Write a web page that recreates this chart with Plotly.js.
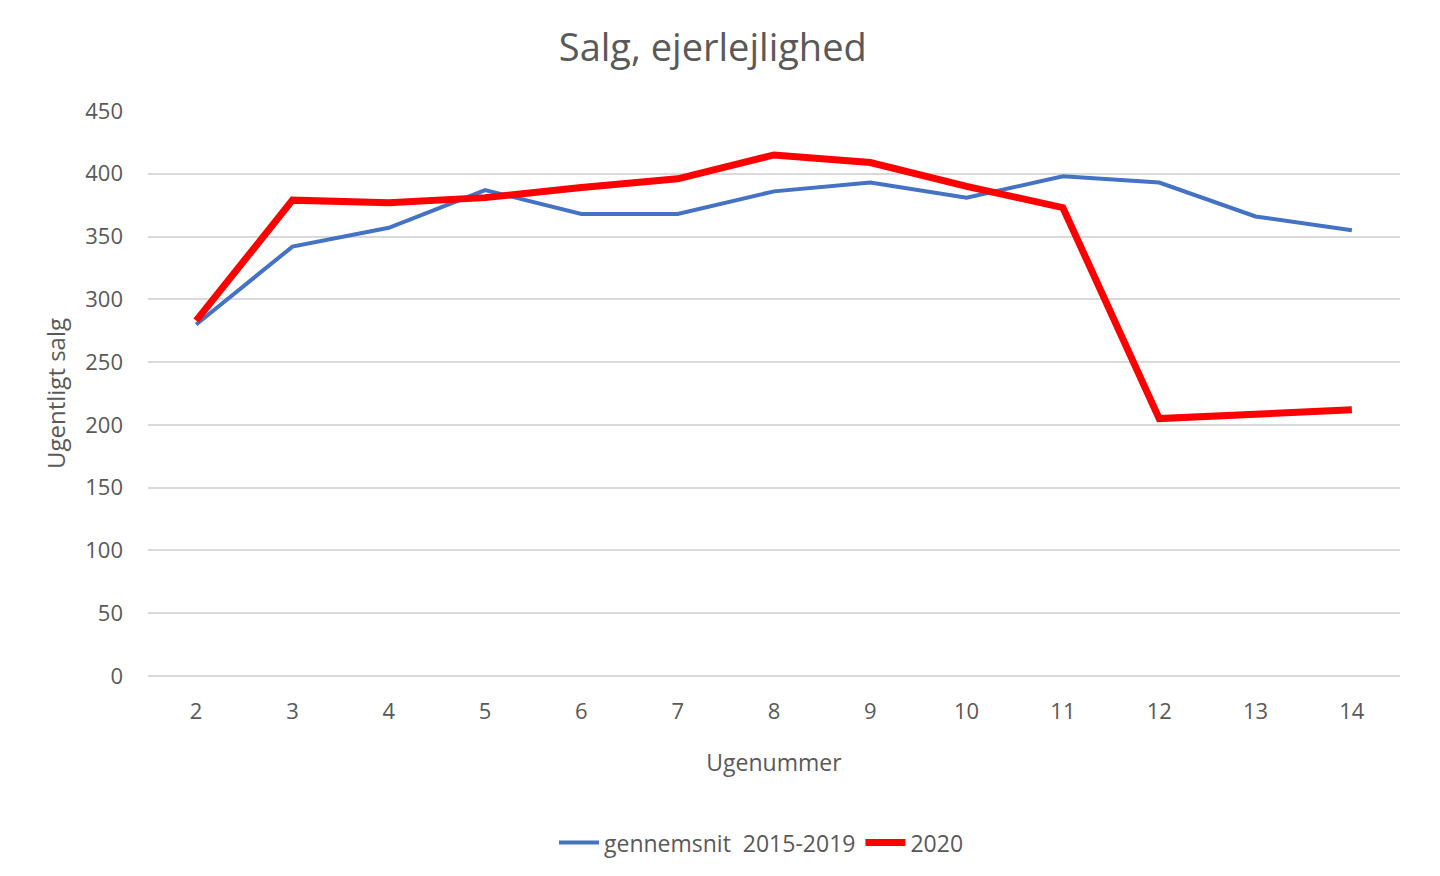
<!DOCTYPE html>
<html>
<head>
<meta charset="utf-8">
<script src="https://cdn.plot.ly/plotly-3.0.1.min.js"></script>
<style>html,body{margin:0;padding:0;background:#fff;}#chart{width:1440px;height:876px;}</style>
</head>
<body>
<div id="chart"></div>
<script>
const weeks = [2, 3, 4, 5, 6, 7, 8, 9, 10, 11, 12, 13, 14];
const avg2015_2019 = [280, 342, 357, 387, 368, 368, 386, 393, 381, 398, 393, 366, 355];
const sales2020 = [283, 379, 377, 381, 389, 396, 415, 409, 390, 373, 205, 209, 212];
const yTicks = [0, 50, 100, 150, 200, 250, 300, 350, 400, 450];

const FONT = '"Open Sans", sans-serif';
const GREY = '#595959';

const traces = [
  {x: weeks, y: avg2015_2019, type: 'scatter', mode: 'lines', name: 'gennemsnit  2015-2019',
   line: {color: '#4472c4', width: 4}},
  {x: weeks, y: sales2020, type: 'scatter', mode: 'lines', name: '2020',
   line: {color: '#ff0000', width: 7}}
];

const layout = {
  width: 1440, height: 876,
  paper_bgcolor: '#fff', plot_bgcolor: '#fff',
  margin: {l: 148, r: 40, t: 111, b: 198},
  font: {family: FONT, color: GREY, size: 22},
  title: {text: 'Salg, ejerlejlighed', x: 0.495, xanchor: 'center', y: 0.945, yanchor: 'middle',
          font: {family: FONT, size: 38, color: GREY}},
  xaxis: {
    type: 'linear', range: [1.5, 14.5], tickvals: weeks, ticktext: weeks.map(String),
    showgrid: false, zeroline: false, showline: false, ticks: '', automargin: false,
    ticklabelstandoff: 20,
    tickfont: {family: FONT, size: 22, color: GREY},
    title: {text: 'Ugenummer', standoff: 30, font: {family: FONT, size: 23, color: GREY}}
  },
  yaxis: {
    range: [0, 450], tickvals: yTicks, ticktext: yTicks.map(String), automargin: false,
    showgrid: true, gridcolor: '#d9d9d9', gridwidth: 2,
    zeroline: true, zerolinecolor: '#d9d9d9', zerolinewidth: 2,
    showline: false, ticks: '',
    ticklabelstandoff: 24,
    tickfont: {family: FONT, size: 22, color: GREY},
    title: {text: 'Ugentligt salg', standoff: 12, font: {family: FONT, size: 24, color: GREY}}
  },
  showlegend: true,
  legend: {orientation: 'h', x: 0.49, xanchor: 'center', y: -0.295, yanchor: 'middle',
           font: {family: FONT, size: 23, color: GREY}, itemwidth: 40, tracegroupgap: 0},
  hovermode: false
};

Plotly.newPlot('chart', traces, layout, {displayModeBar: false, staticPlot: true});
</script>
</body>
</html>
